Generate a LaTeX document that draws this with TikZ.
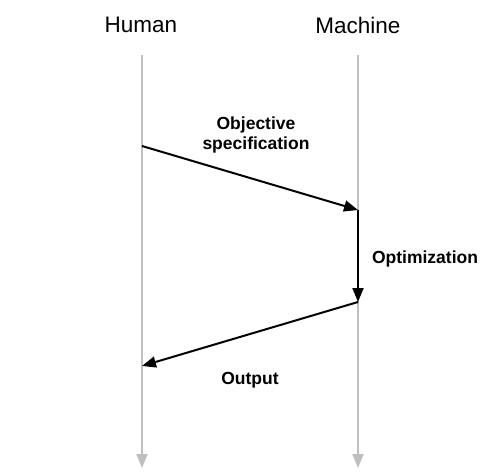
\documentclass[tikz,border=0pt]{standalone}
\usepackage{fontspec}
\setmainfont{Liberation Sans}
\usetikzlibrary{arrows.meta}
\begin{document}
\begin{tikzpicture}[x=1pt,y=-1pt,
  lifeline/.style={draw=black!25,line width=2pt,-{Triangle[length=14pt,width=11pt]}},
  msg/.style={draw=black,line width=2pt,-{Triangle[length=14pt,width=11pt]}},
  title/.style={font=\fontsize{22.5}{26}\selectfont},
  lbl/.style={font=\fontsize{17.5}{20.5}\selectfont\bfseries,align=center}]
\useasboundingbox (0,0) rectangle (493,476);
\node[title] (human) at (141,25) {Human};
\node[title] (machine) at (358,25) {Machine};
\coordinate (ht) at (142,55);
\coordinate (hb) at (142,468);
\coordinate (mt) at (358,55);
\coordinate (mb) at (358,468);
\draw[lifeline] (ht) -- (hb);
\draw[lifeline] (mt) -- (mb);
\coordinate (h1) at (142,146);
\coordinate (m1) at (358,210);
\coordinate (m2) at (358,302);
\coordinate (h2) at (142,366);
\draw[msg] (h1) -- (m1);
\draw[msg] (m1) -- (m2);
\draw[msg] (m2) -- (h2);
\node[lbl] (objspec) at (256,135) {Objective\\specification};
\node[lbl] (opt) at (425,259) {Optimization};
\node[lbl] (out) at (250,380) {Output};
\end{tikzpicture}
\end{document}
